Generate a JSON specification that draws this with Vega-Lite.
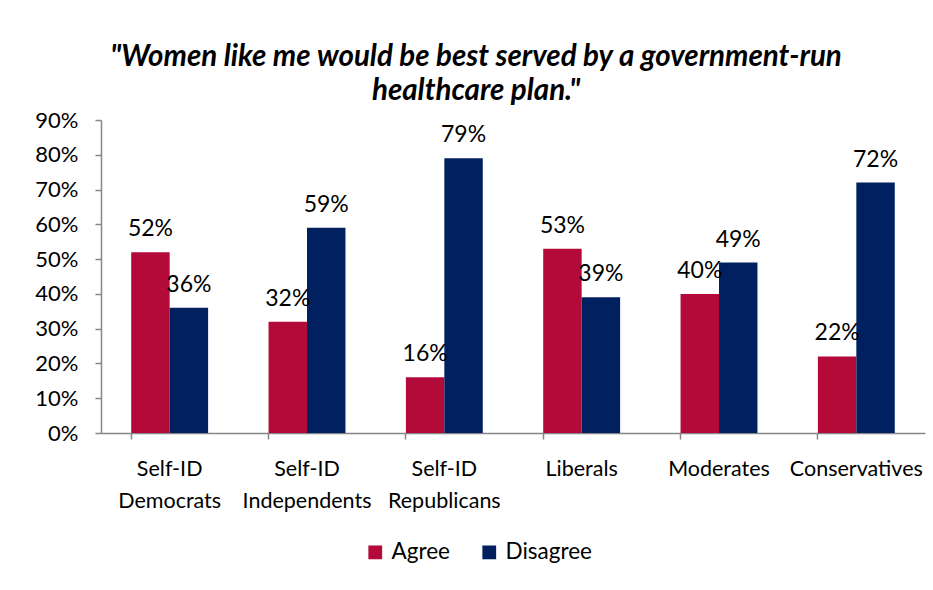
{
  "$schema": "https://vega.github.io/schema/vega-lite/v6.json",
  "width": 824,
  "height": 313,
  "autosize": "none",
  "padding": {"left": 101, "top": 120, "right": 8, "bottom": 157},
  "background": "white",
  "config": {
    "font": "Lato",
    "view": {"stroke": null}
  },
  "title": {
    "text": ["\"Women like me would be best served by a government-run", "healthcare plan.\""],
    "font": "Lato",
    "fontSize": 29.5,
    "fontWeight": "bold",
    "fontStyle": "italic",
    "color": "black",
    "anchor": "middle",
    "lineHeight": 34,
    "offset": 3,
    "dx": -37
  },
  "data": {
    "values": [
      {"group": "Self-ID Democrats", "response": "Agree", "value": 0.52},
      {"group": "Self-ID Democrats", "response": "Disagree", "value": 0.36},
      {"group": "Self-ID Independents", "response": "Agree", "value": 0.32},
      {"group": "Self-ID Independents", "response": "Disagree", "value": 0.59},
      {"group": "Self-ID Republicans", "response": "Agree", "value": 0.16},
      {"group": "Self-ID Republicans", "response": "Disagree", "value": 0.79},
      {"group": "Liberals", "response": "Agree", "value": 0.53},
      {"group": "Liberals", "response": "Disagree", "value": 0.39},
      {"group": "Moderates", "response": "Agree", "value": 0.40},
      {"group": "Moderates", "response": "Disagree", "value": 0.49},
      {"group": "Conservatives", "response": "Agree", "value": 0.22},
      {"group": "Conservatives", "response": "Disagree", "value": 0.72}
    ]
  },
  "encoding": {
    "x": {
      "field": "group",
      "type": "nominal",
      "sort": null,
      "scale": {"paddingInner": 0.44, "paddingOuter": 0.22},
      "axis": {
        "title": null,
        "labelAngle": 0,
        "labelFontSize": 21.5,
        "labelColor": "black",
        "labelFont": "Lato",
        "labelPadding": 19,
        "labelLineHeight": 32,
        "labelBaseline": "top",
        "labelExpr": "split(datum.label, ' ')",
        "bandPosition": 0,
        "tickColor": "#868686",
        "tickSize": 6,
        "domainColor": "#868686",
        "domainWidth": 1.5,
        "tickWidth": 1.5
      }
    },
    "xOffset": {"field": "response", "type": "nominal", "sort": ["Agree", "Disagree"]},
    "y": {
      "field": "value",
      "type": "quantitative",
      "scale": {"domain": [0, 0.9], "nice": false},
      "axis": {
        "title": null,
        "format": ".0%",
        "values": [0, 0.1, 0.2, 0.3, 0.4, 0.5, 0.6, 0.7, 0.8, 0.9],
        "grid": false,
        "labelFontSize": 22,
        "labelColor": "black",
        "labelFont": "Lato",
        "labelPadding": 17,
        "tickSize": 6,
        "tickColor": "#868686",
        "domainColor": "#868686",
        "domainWidth": 1.5,
        "tickWidth": 1.5
      }
    }
  },
  "layer": [
    {
      "mark": {"type": "bar"},
      "encoding": {
        "color": {
          "field": "response",
          "type": "nominal",
          "scale": {"domain": ["Agree", "Disagree"], "range": ["#B30A3A", "#00205F"]},
          "legend": {
            "title": null,
            "orient": "none",
            "direction": "horizontal",
            "legendX": 263,
            "legendY": 421,
            "symbolType": "square",
            "symbolSize": 190,
            "symbolStrokeWidth": 0,
            "labelFontSize": 22.5,
            "labelFont": "Lato",
            "labelColor": "black",
            "labelOffset": 5,
            "columnPadding": 28
          }
        }
      }
    },
    {
      "mark": {"type": "text", "baseline": "alphabetic", "dy": -16, "fontSize": 23, "font": "Lato", "color": "black"},
      "encoding": {
        "text": {"field": "value", "type": "quantitative", "format": ".0%"}
      }
    }
  ]
}
